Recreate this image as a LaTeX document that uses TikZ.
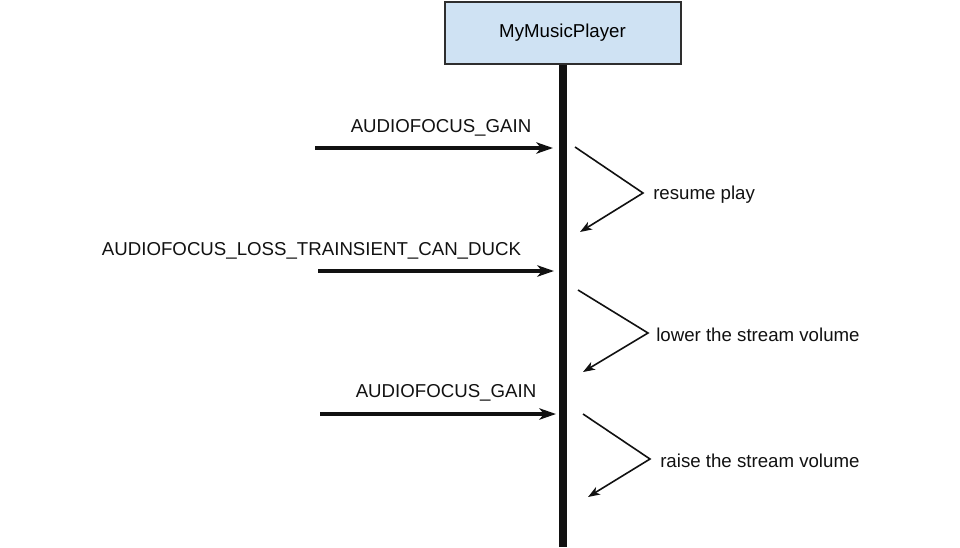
\documentclass[tikz,border=0pt]{standalone}
\usepackage{fontspec}
\setmainfont{Liberation Sans}
\usepackage{xcolor}
\usetikzlibrary{arrows.meta}
\definecolor{boxblue}{HTML}{CFE2F3}
\definecolor{boxline}{HTML}{2E2E2E}
\definecolor{ink}{HTML}{111111}

\begin{document}
\begin{tikzpicture}[x=0.75pt,y=-0.75pt,
          player/.style={draw=boxline,fill=boxblue,line width=1.5pt,
                         minimum width=177pt,minimum height=46pt,
                         inner sep=0pt,font=\fontsize{14}{16}\selectfont},
          lbl/.style={inner sep=0pt,text=ink,font=\fontsize{14}{16}\selectfont},
          msg/.style={ink,line width=2.3pt,
                      -{Stealth[length=12.5pt,width=8.5pt,inset=3.5pt]}},
          reply/.style={ink,line width=1.2pt,line join=miter,
                        -{Stealth[length=9pt,width=6.5pt,inset=2.5pt]}}]
        \useasboundingbox (0,0) rectangle (960,547);
        \node[player] (mmp) at (562.5,33) {MyMusicPlayer};
        \coordinate (bottom) at (562.5,547);
        \draw[ink,line width=6pt] (mmp.south) -- (bottom);
        % incoming focus changes
        \coordinate (s1) at (315,148);
        \coordinate (e1) at (553,148);
        \coordinate (s2) at (318,271);
        \coordinate (e2) at (554,271);
        \coordinate (s3) at (320,414);
        \coordinate (e3) at (556,414);
        \node[lbl,anchor=base] (g1) at (441,132) {AUDIOFOCUS\_GAIN};
        \node[lbl,anchor=base] (duck) at (311.5,255) {AUDIOFOCUS\_LOSS\_TRAINSIENT\_CAN\_DUCK};
        \node[lbl,anchor=base] (g2) at (446,397) {AUDIOFOCUS\_GAIN};
        \draw[msg] (s1) -- (e1);
        \draw[msg] (s2) -- (e2);
        \draw[msg] (s3) -- (e3);
        % reactions of the player
        \coordinate (a1) at (575,147);
        \coordinate (b1) at (643,193);
        \coordinate (c1) at (580,232);
        \coordinate (a2) at (578,290);
        \coordinate (b2) at (648,333);
        \coordinate (c2) at (583,372);
        \coordinate (a3) at (583,414);
        \coordinate (b3) at (650,459);
        \coordinate (c3) at (588,497);
        \draw[reply] (a1) -- (b1) -- (c1);
        \draw[reply] (a2) -- (b2) -- (c2);
        \draw[reply] (a3) -- (b3) -- (c3);
        \node[lbl,anchor=base west] (resume) at (653,199) {resume play};
        \node[lbl,anchor=base west] (lower) at (656,341) {lower the stream volume};
        \node[lbl,anchor=base west] (raise) at (660,467) {raise the stream volume};
      \end{tikzpicture}
\end{document}
